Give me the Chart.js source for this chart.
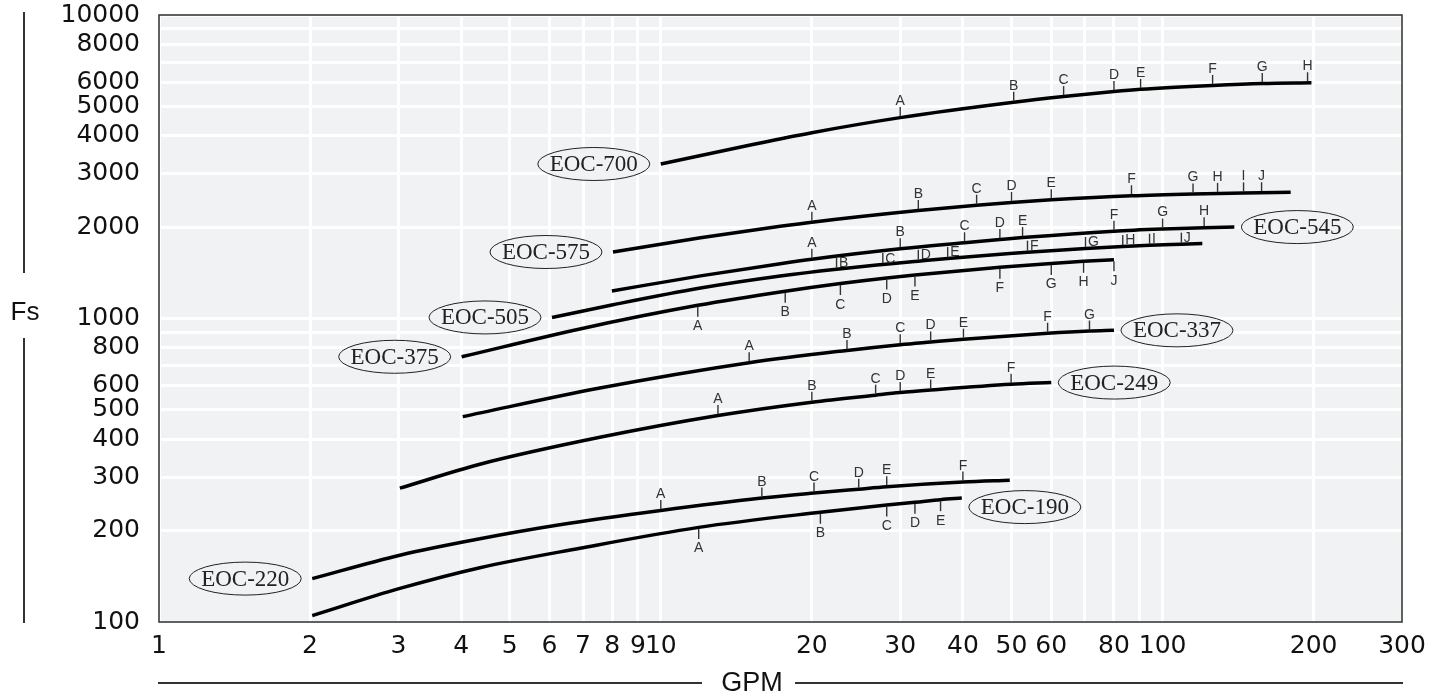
<!DOCTYPE html>
<html>
<head>
<meta charset="utf-8">
<title>EOC Fs vs GPM</title>
<script src="https://cdn.jsdelivr.net/npm/chart.js@4.4.1/dist/chart.umd.min.js"></script>
<style>
  html, body { margin: 0; padding: 0; background: #fff; }
  #wrap { width: 1441px; height: 697px; position: relative; }
</style>
</head>
<body>
<div id="wrap"><canvas id="fsChart"></canvas></div>
<script>
// Axis ticks: every decade step gets a grid line, only some get a label
const gpmGrid = [1, 2, 3, 4, 5, 6, 7, 8, 9, 10, 20, 30, 40, 50, 60, 70, 80, 90, 100, 200, 300];
const gpmLabels = [1, 2, 3, 4, 5, 6, 7, 8, 9, 10, 20, 30, 40, 50, 60, 80, 100, 200, 300];
const fsGrid = [100, 200, 300, 400, 500, 600, 700, 800, 900,
                1000, 2000, 3000, 4000, 5000, 6000, 7000, 8000, 9000, 10000];
const fsLabels = [100, 200, 300, 400, 500, 600, 800, 1000, 2000, 3000, 4000, 5000, 6000, 8000, 10000];

// Curves, [GPM, Fs]
const eoc700 = [[10, 3229], [15, 3722], [20, 4095], [30, 4591], [50.5, 5157], [63.5, 5384],
                [80, 5594], [90.4, 5688], [125.8, 5861], [158, 5951], [198, 5984]];
const eoc575 = [[8.03, 1656], [12, 1844], [17.3, 2012], [20, 2077], [32.6, 2269], [42.6, 2362],
                [50, 2413], [60, 2461], [86.7, 2537], [115, 2573], [145, 2593], [180, 2607]];
const eoc545 = [[7.99, 1232], [12, 1382], [17.3, 1516], [20, 1568], [30, 1697], [40.3, 1776],
                [47.4, 1820], [52.6, 1848], [80, 1940], [100, 1972], [121, 1992], [139, 2001]];
const eoc505 = [[6.07, 1008], [8.03, 1110], [12, 1260], [17.3, 1380], [22.4, 1453], [27.7, 1506],
                [32.6, 1545], [37.3, 1577], [49.6, 1638], [53.8, 1654], [70.2, 1702], [83.3, 1728],
                [94.2, 1744], [109, 1758], [120, 1767]];
const eoc375 = [[4.01, 748], [6.9, 924], [11.85, 1105], [17.7, 1230], [22.8, 1304], [28.2, 1360],
                [32.1, 1390], [47.4, 1474], [60, 1518], [69.6, 1543], [80, 1561]];
const eoc337 = [[4.03, 475], [7.56, 590], [15, 715], [23.5, 785], [30, 820], [34.5, 837],
                [40.1, 855], [59, 894], [71.5, 909], [80, 914]];
const eoc249 = [[3.02, 276], [4.36, 331], [7.56, 406], [13, 479], [20, 530], [26.8, 559],
                [30, 570], [34.5, 581], [49.9, 607], [60, 615]];
const eoc220 = [[2.02, 139], [3.02, 166], [4.36, 188], [6.29, 209], [10, 233], [15.9, 256],
                [20.2, 266], [24.8, 274], [28.2, 279], [40, 289], [49.6, 293]];
const eoc190 = [[2.02, 105], [3.02, 129], [4.36, 151], [6.9, 175], [11.9, 205], [20.8, 230],
                [28.2, 243], [32.1, 248], [36.1, 253], [39.8, 256]];

// Lettered marks on each curve, [letter, GPM, Fs]
const eoc700Marks = [['A', 30, 4591], ['B', 50.5, 5157], ['C', 63.5, 5384], ['D', 80, 5594],
                     ['E', 90.4, 5688], ['F', 125.8, 5861], ['G', 158, 5951], ['H', 194.5, 5980]];
const eoc575Marks = [['A', 20, 2077], ['B', 32.6, 2269], ['C', 42.6, 2362], ['D', 50, 2413],
                     ['E', 60, 2461], ['F', 86.7, 2537], ['G', 115, 2573], ['H', 128.7, 2583],
                     ['I', 145, 2593], ['J', 157.5, 2597]];
const eoc545Marks = [['A', 20, 1568], ['B', 30, 1697], ['C', 40.3, 1776], ['D', 47.4, 1820],
                     ['E', 52.6, 1848], ['F', 80, 1940], ['G', 100, 1972], ['H', 121, 1992]];
const eoc505Marks = [['B', 22.4, 1453], ['C', 27.7, 1506], ['D', 32.6, 1545], ['E', 37.3, 1577],
                     ['F', 53.8, 1654], ['G', 70.2, 1702], ['H', 83.3, 1728], ['I', 94.2, 1744],
                     ['J', 109, 1758]];
const eoc375Marks = [['A', 11.85, 1105], ['B', 17.7, 1230], ['C', 22.8, 1304], ['D', 28.2, 1360],
                     ['E', 32.1, 1390], ['F', 47.4, 1474], ['G', 60, 1518], ['H', 69.6, 1543],
                     ['J', 80, 1561]];
const eoc337Marks = [['A', 15, 715], ['B', 23.5, 785], ['C', 30, 820], ['D', 34.5, 837],
                     ['E', 40.1, 855], ['F', 59, 894], ['G', 71.5, 909]];
const eoc249Marks = [['A', 13, 479], ['B', 20, 530], ['C', 26.8, 559], ['D', 30, 570],
                     ['E', 34.5, 581], ['F', 49.9, 607]];
const eoc220Marks = [['A', 10, 233], ['B', 15.9, 256], ['C', 20.2, 266], ['D', 24.8, 274],
                     ['E', 28.2, 279], ['F', 40, 289]];
const eoc190Marks = [['A', 11.9, 205], ['B', 20.8, 230], ['C', 28.2, 243], ['D', 32.1, 248],
                     ['E', 36.1, 253]];

// How each curve is annotated (where the tag sits, which side the marks go)
const series = [
    { name: 'EOC-700', points: eoc700, marks: eoc700Marks, markSide: 'above', tag: 'start' },
    { name: 'EOC-575', points: eoc575, marks: eoc575Marks, markSide: 'above', tag: 'start' },
    { name: 'EOC-545', points: eoc545, marks: eoc545Marks, markSide: 'above', tag: 'end' },
    { name: 'EOC-505', points: eoc505, marks: eoc505Marks, markSide: 'beside', tag: 'start' },
    { name: 'EOC-375', points: eoc375, marks: eoc375Marks, markSide: 'below', tag: 'start' },
    { name: 'EOC-337', points: eoc337, marks: eoc337Marks, markSide: 'above', tag: 'end' },
    { name: 'EOC-249', points: eoc249, marks: eoc249Marks, markSide: 'above', tag: 'end' },
    { name: 'EOC-220', points: eoc220, marks: eoc220Marks, markSide: 'above', tag: 'start' },
    { name: 'EOC-190', points: eoc190, marks: eoc190Marks, markSide: 'below', tag: 'end', tagDy: 9 }
];

const plotBg = '#f1f2f4';
const inkColor = '#222';

function drawMarks(ctx, xs, ys, s) {
    ctx.strokeStyle = '#333';
    ctx.fillStyle = '#333';
    ctx.lineWidth = 1.4;
    ctx.font = '14px "Liberation Sans", Arial, sans-serif';
    ctx.textBaseline = 'alphabetic';
    s.marks.forEach(([letter, gpm, fs]) => {
        const px = xs.getPixelForValue(gpm);
        const py = ys.getPixelForValue(fs);
        ctx.beginPath();
        if (s.markSide === 'below') {
            ctx.moveTo(px, py + 1.5);
            ctx.lineTo(px, py + 11.5);
            ctx.stroke();
            ctx.textAlign = 'center';
            ctx.fillText(letter, px, py + 25);
        } else if (s.markSide === 'beside') {
            ctx.moveTo(px, py - 1.5);
            ctx.lineTo(px, py - 11.5);
            ctx.stroke();
            ctx.textAlign = 'left';
            ctx.fillText(letter, px + 2.5, py - 2);
        } else {
            ctx.moveTo(px, py - 1.5);
            ctx.lineTo(px, py - 10.5);
            ctx.stroke();
            ctx.textAlign = 'center';
            ctx.fillText(letter, px, py - 12.5);
        }
    });
}

function drawTag(ctx, xs, ys, s) {
    const p = s.tag === 'start' ? s.points[0] : s.points[s.points.length - 1];
    const px = xs.getPixelForValue(p[0]);
    const py = ys.getPixelForValue(p[1]) + (s.tagDy || 0);
    const cx = s.tag === 'start' ? px - 67 : px + 63;
    ctx.beginPath();
    ctx.ellipse(cx, py, 56, 16.5, 0, 0, Math.PI * 2);
    ctx.fillStyle = plotBg;
    ctx.fill();
    ctx.strokeStyle = inkColor;
    ctx.lineWidth = 1;
    ctx.stroke();
    ctx.fillStyle = inkColor;
    ctx.font = '23px "Liberation Serif", "Times New Roman", serif';
    ctx.textAlign = 'center';
    ctx.textBaseline = 'middle';
    ctx.fillText(s.name, cx, py + 1);
}

const chartDecor = {
    id: 'chartDecor',
    beforeDraw(chart) {
        const { ctx, chartArea: a } = chart;
        ctx.save();
        ctx.fillStyle = plotBg;
        ctx.fillRect(a.left, a.top, a.right - a.left, a.bottom - a.top);
        ctx.restore();
    },
    afterDatasetsDraw(chart) {
        const { ctx, chartArea: a, scales } = chart;
        ctx.save();
        series.forEach(s => {
            drawMarks(ctx, scales.x, scales.y, s);
            drawTag(ctx, scales.x, scales.y, s);
        });
        // plot frame
        ctx.strokeStyle = '#3a3a3a';
        ctx.lineWidth = 1.6;
        ctx.strokeRect(a.left, a.top, a.right - a.left, a.bottom - a.top);
        ctx.restore();
    },
    afterDraw(chart) {
        const { ctx, chartArea: a } = chart;
        ctx.save();
        ctx.strokeStyle = '#333';
        ctx.fillStyle = '#111';
        ctx.lineWidth = 2;

        // y title "Fs" between two vertical rules
        ctx.beginPath();
        ctx.moveTo(24, a.top - 3);
        ctx.lineTo(24, 273);
        ctx.moveTo(24, 338);
        ctx.lineTo(24, a.bottom + 1);
        ctx.stroke();
        ctx.font = '26px "Liberation Sans", Arial, sans-serif';
        ctx.textAlign = 'center';
        ctx.textBaseline = 'middle';
        ctx.fillText('Fs', 25, 313);

        // x title "GPM" between two horizontal rules
        const gy = 683;
        ctx.beginPath();
        ctx.moveTo(a.left - 1, gy);
        ctx.lineTo(702, gy);
        ctx.moveTo(795, gy);
        ctx.lineTo(a.right + 1, gy);
        ctx.stroke();
        ctx.font = '27px "Liberation Sans", Arial, sans-serif';
        ctx.fillText('GPM', 752, gy + 1);
        ctx.restore();
    }
};

const datasets = series.map(s => ({
    label: s.name,
    data: s.points.map(([x, y]) => ({ x, y })),
    borderColor: '#000',
    borderWidth: 3.5,
    pointRadius: 0,
    fill: false,
    cubicInterpolationMode: 'monotone'
}));

new Chart(document.getElementById('fsChart'), {
    type: 'line',
    data: { datasets },
    plugins: [chartDecor],
    options: {
        responsive: true,
        maintainAspectRatio: false,
        animation: false,
        devicePixelRatio: 1,
        layout: { padding: { top: 15, right: 39, left: 0, bottom: 0 } },
        plugins: {
            legend: { display: false },
            tooltip: { enabled: false }
        },
        scales: {
            x: {
                type: 'logarithmic',
                min: 1,
                max: 300,
                afterBuildTicks: scale => { scale.ticks = gpmGrid.map(v => ({ value: v })); },
                afterFit: scale => {
                    scale.height = 75;
                    scale.paddingLeft = 0;
                    scale.paddingRight = 0;
                },
                grid: { color: '#fff', lineWidth: 3, drawTicks: false },
                border: { display: false },
                ticks: {
                    autoSkip: false,
                    maxRotation: 0,
                    padding: 9,
                    color: '#111',
                    font: { family: '"DejaVu Sans", sans-serif', size: 25 },
                    callback: v => gpmLabels.includes(v) ? String(v) : ''
                }
            },
            y: {
                type: 'logarithmic',
                min: 100,
                max: 10000,
                afterBuildTicks: scale => { scale.ticks = fsGrid.map(v => ({ value: v })); },
                afterFit: scale => {
                    scale.width = 159;
                    scale.paddingTop = 0;
                    scale.paddingBottom = 0;
                },
                grid: { color: '#fff', lineWidth: 3, drawTicks: false },
                border: { display: false },
                ticks: {
                    autoSkip: false,
                    padding: 19,
                    color: '#111',
                    font: { family: '"DejaVu Sans", sans-serif', size: 25 },
                    callback: v => fsLabels.includes(v) ? String(v) : ''
                }
            }
        }
    }
});
</script>
</body>
</html>
